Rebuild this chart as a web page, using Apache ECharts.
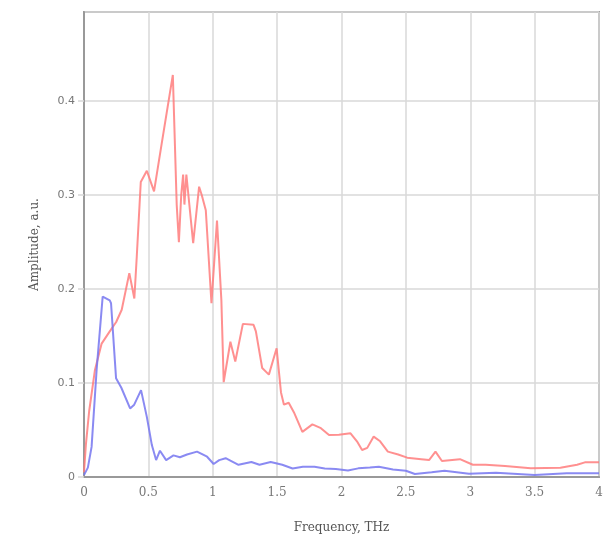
<!DOCTYPE html>
<html>
<head>
<meta charset="utf-8">
<script src="https://cdn.jsdelivr.net/npm/echarts@6/dist/echarts.min.js"></script>
<style>html,body{margin:0;padding:0;background:#fff}#c{width:614px;height:540px}</style>
</head>
<body>
<div id="c"></div>
<script>
var xTicks = ['0','0.5','1','1.5','2','2.5','3','3.5','4'];
var yTicks = ['0','0.1','0.2','0.3','0.4'];
var redFreq = [0,0.015,0.04,0.085,0.137,0.2,0.25,0.293,0.352,0.391,0.41,0.441,0.488,0.544,0.6,0.69,0.72,0.737,0.755,0.77,0.78,0.795,0.848,0.894,0.915,0.946,0.99,1.033,1.067,1.085,1.137,1.175,1.234,1.317,1.335,1.384,1.436,1.496,1.53,1.553,1.59,1.63,1.696,1.774,1.84,1.903,1.98,2.07,2.12,2.16,2.2,2.25,2.3,2.36,2.44,2.51,2.62,2.68,2.73,2.78,2.92,3.02,3.12,3.27,3.47,3.7,3.83,3.89,4.0];
var redAmp = [0.005,0.035,0.07,0.114,0.142,0.155,0.165,0.178,0.217,0.19,0.235,0.314,0.326,0.304,0.352,0.428,0.29,0.25,0.30,0.322,0.29,0.322,0.249,0.309,0.30,0.284,0.185,0.273,0.188,0.101,0.144,0.123,0.163,0.162,0.155,0.116,0.109,0.137,0.09,0.077,0.079,0.069,0.048,0.056,0.052,0.0447,0.045,0.0465,0.038,0.0287,0.031,0.043,0.038,0.027,0.024,0.0206,0.019,0.018,0.027,0.017,0.019,0.013,0.013,0.0117,0.0092,0.0099,0.013,0.0156,0.0156];
var blueFreq = [0,0.03,0.059,0.098,0.145,0.2,0.21,0.249,0.29,0.358,0.39,0.443,0.488,0.527,0.56,0.59,0.638,0.695,0.745,0.8,0.878,0.956,1.007,1.05,1.1,1.2,1.3,1.363,1.45,1.54,1.62,1.7,1.79,1.87,1.956,2.05,2.13,2.22,2.29,2.4,2.5,2.57,2.7,2.8,2.99,3.2,3.5,3.75,4.0];
var blueAmp = [0.002,0.01,0.032,0.114,0.192,0.188,0.185,0.105,0.095,0.073,0.077,0.0925,0.064,0.034,0.018,0.028,0.018,0.023,0.021,0.024,0.027,0.0216,0.0138,0.018,0.02,0.013,0.016,0.013,0.016,0.013,0.009,0.011,0.011,0.009,0.0085,0.007,0.0092,0.01,0.011,0.008,0.0067,0.0032,0.005,0.0067,0.0034,0.0045,0.002,0.004,0.004];

function pairs(xs, ys){ return xs.map(function(x,i){ return [x, ys[i]]; }); }

var chart = echarts.init(document.getElementById('c'), null, {renderer:'canvas'});
chart.setOption({
  animation: false,
  backgroundColor: '#ffffff',
  grid: {left: 84, right: 15, top: 12, bottom: 63, show: true, borderColor: '#a0a0a0', borderWidth: 2},
  xAxis: {
    type: 'value', min: 0, max: 4, interval: 0.5,
    name: 'Frequency, THz', nameLocation: 'middle', nameGap: 45,
    nameTextStyle: {fontFamily: 'DejaVu Serif', fontSize: 12, color: '#555'},
    axisLine: {show: true, onZero: false, lineStyle: {color: '#999', width: 2}},
    axisTick: {show: false},
    axisLabel: {fontFamily: 'DejaVu Serif', fontSize: 12, color: '#777', margin: 10,
      formatter: function(v){ var i = Math.round(v/0.5); return xTicks[i] !== undefined ? xTicks[i] : ''; }},
    splitLine: {show: true, lineStyle: {color: '#d8d8d8', width: 1.5}}
  },
  yAxis: {
    type: 'value', min: 0, max: 0.495, interval: 0.1,
    name: 'Amplitude, a.u.', nameLocation: 'middle', nameGap: 43,
    nameTextStyle: {fontFamily: 'DejaVu Serif', fontSize: 12, color: '#555'},
    axisLine: {show: true, onZero: false, lineStyle: {color: '#999', width: 2}},
    axisTick: {show: true, length: 6, lineStyle: {color: '#d8d8d8', width: 1.5}},
    axisLabel: {fontFamily: 'DejaVu Sans', fontSize: 11, color: '#777', margin: 9, showMaxLabel: false,
      formatter: function(v){ var i = Math.round(v/0.1); return yTicks[i] !== undefined ? yTicks[i] : ''; }},
    splitLine: {show: true, lineStyle: {color: '#d8d8d8', width: 1.5}}
  },
  series: [
    {type: 'line', data: pairs(redFreq, redAmp), symbol: 'none', smooth: false,
     lineStyle: {color: '#ff7c7c', width: 2, opacity: 0.85}, z: 3},
    {type: 'line', data: pairs(blueFreq, blueAmp), symbol: 'none', smooth: false,
     lineStyle: {color: '#7676f0', width: 2, opacity: 0.85}, z: 4}
  ]
});
</script>
</body>
</html>
